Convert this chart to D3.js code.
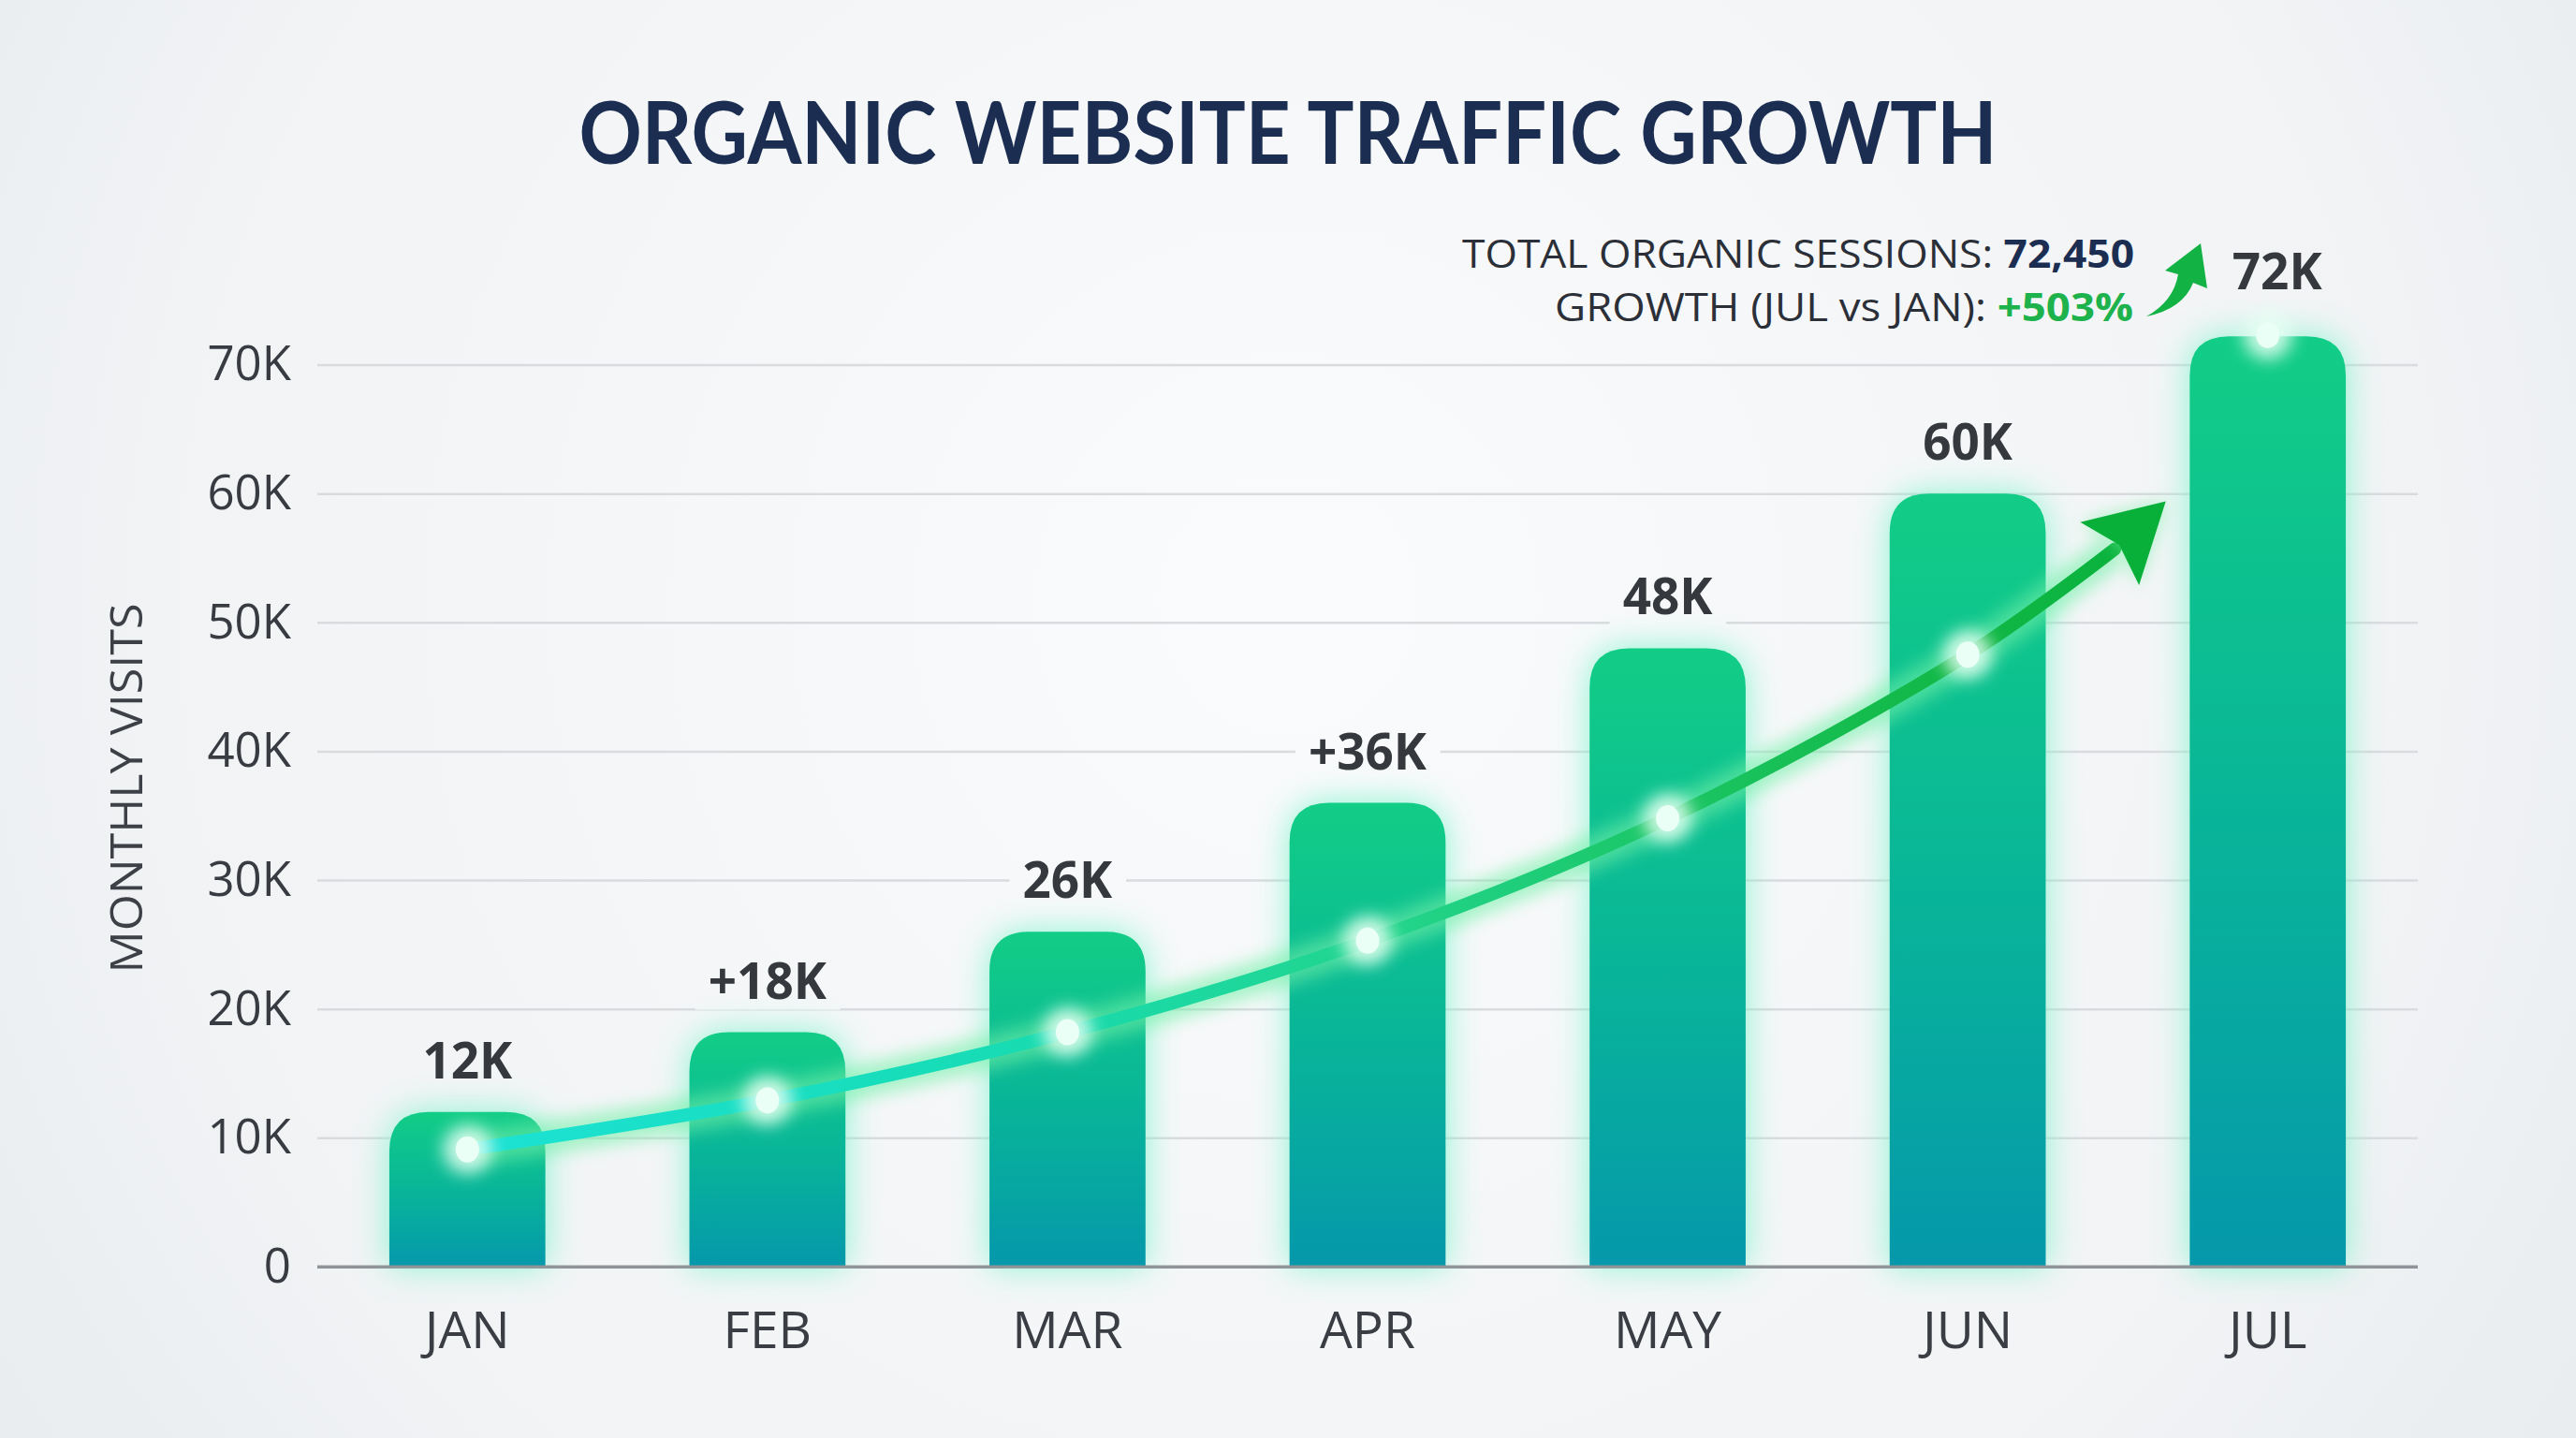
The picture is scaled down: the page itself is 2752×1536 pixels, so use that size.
<!DOCTYPE html>
<html>
<head>
<meta charset="utf-8">
<script src="https://cdn.jsdelivr.net/npm/d3@7"></script>
<style>
  html, body { margin: 0; padding: 0; background: #f2f4f6; }
  svg { display: block; }
</style>
</head>
<body>
<div id="chart"></div>
<script>
// Data
const months = ['JAN', 'FEB', 'MAR', 'APR', 'MAY', 'JUN', 'JUL'];
const visits = [12000, 18200, 26000, 36000, 48000, 60000, 72200];
const valueLabels = ['12K', '+18K', '26K', '+36K', '48K', '60K', '72K'];
const yTicks = [0, 10000, 20000, 30000, 40000, 50000, 60000, 70000];
// trend line markers, Jan..Jun
const trendValues = [9100, 12900, 18200, 25300, 34800, 47500];
// where the trend shaft ends and its arrow tip points (month index, visits)
const trendShaftEnd = [5.49, 55700];
const trendArrowTip = [5.66, 59400];
const julMarker = 72300;
const totalSessions = '72,450';
const growth = '+503%';

const W = 2752, H = 1536;
const margin = { top: 389.6, right: 169, bottom: 183, left: 339 };

const svg = d3.select('#chart').append('svg')
  .attr('width', W).attr('height', H);

const defs = svg.append('defs');

// background
const bg = defs.append('radialGradient').attr('id', 'bg')
  .attr('gradientUnits', 'userSpaceOnUse')
  .attr('cx', W / 2).attr('cy', H * 0.42).attr('r', W * 0.62);
bg.append('stop').attr('offset', '0%').attr('stop-color', '#fafbfc');
bg.append('stop').attr('offset', '70%').attr('stop-color', '#f1f3f5');
bg.append('stop').attr('offset', '100%').attr('stop-color', '#e8ebee');
svg.append('rect').attr('width', W).attr('height', H).attr('fill', 'url(#bg)');

// bar gradient (top green -> bottom teal)
const barGrad = defs.append('linearGradient').attr('id', 'barGrad')
  .attr('x1', 0).attr('y1', 0).attr('x2', 0).attr('y2', 1);
barGrad.append('stop').attr('offset', '0%').attr('stop-color', '#12cd86');
barGrad.append('stop').attr('offset', '55%').attr('stop-color', '#08b39a');
barGrad.append('stop').attr('offset', '100%').attr('stop-color', '#0598ab');

// glow filters
defs.append('filter').attr('id', 'glow')
  .attr('x', '-50%').attr('y', '-50%').attr('width', '200%').attr('height', '200%')
  .append('feGaussianBlur').attr('stdDeviation', 18);
defs.append('filter').attr('id', 'softGlow')
  .attr('x', '-50%').attr('y', '-50%').attr('width', '200%').attr('height', '200%')
  .append('feGaussianBlur').attr('stdDeviation', 9);

const x = d3.scaleBand().domain(months)
  .range([margin.left, W - margin.right])
  .paddingInner(0.48).paddingOuter(0.24);
const y = d3.scaleLinear().domain([0, 70000]).range([H - margin.bottom, margin.top]);
const xi = d3.scaleLinear().domain([0, months.length - 1])
  .range([x(months[0]) + x.bandwidth() / 2, x(months[months.length - 1]) + x.bandwidth() / 2]);

// Title
svg.append('text')
  .attr('x', W / 2).attr('y', 175)
  .attr('text-anchor', 'middle')
  .attr('font-family', 'Lato, "Open Sans", sans-serif')
  .attr('font-weight', 700).attr('font-size', 92)
  .attr('fill', '#1b2e52')
  .attr('textLength', 1515).attr('lengthAdjust', 'spacingAndGlyphs')
  .text('ORGANIC WEBSITE TRAFFIC GROWTH');

// Grid + y axis
svg.append('g')
  .attr('transform', `translate(${margin.left},0)`)
  .call(d3.axisLeft(y).tickValues(yTicks).tickSize(-(W - margin.left - margin.right))
    .tickFormat(d => d === 0 ? '0' : d / 1000 + 'K').tickPadding(28))
  .call(g => g.select('.domain').remove())
  .call(g => g.selectAll('.tick line')
    .attr('stroke', d => d === 0 ? '#909398' : '#d9dbdf')
    .attr('stroke-width', d => d === 0 ? 3 : 2.5))
  .call(g => g.selectAll('.tick text')
    .attr('fill', '#383b41').attr('font-size', 51)
    .attr('font-family', '"Open Sans", sans-serif'));

// y axis title
svg.append('text')
  .attr('transform', `translate(152,842) rotate(-90)`)
  .attr('text-anchor', 'middle')
  .attr('font-family', '"Open Sans", sans-serif')
  .attr('font-size', 48).attr('fill', '#3d4046')
  .attr('textLength', 395).attr('lengthAdjust', 'spacingAndGlyphs')
  .text('MONTHLY VISITS');

// month labels
svg.append('g').selectAll('text').data(months).join('text')
  .attr('x', d => x(d) + x.bandwidth() / 2)
  .attr('y', 1440)
  .attr('text-anchor', 'middle')
  .attr('font-family', '"Open Sans", sans-serif')
  .attr('font-size', 55).attr('fill', '#3a3d44')
  .text(d => d);

// value labels (halo rect hides the gridline behind each label)
const labelG = svg.append('g');
const haloG = svg.insert('g', () => labelG.node());
const labels = labelG.selectAll('text').data(months).join('text')
  .attr('x', (d, i) => x(d) + x.bandwidth() / 2 + (i === 6 ? 10 : 0))
  .attr('y', (d, i) => y(visits[i]) - (i === 6 ? 50 : 36))
  .attr('text-anchor', 'middle')
  .attr('font-family', '"Open Sans", sans-serif')
  .attr('font-weight', 700).attr('font-size', 53)
  .attr('fill', '#35383d')
  .text((d, i) => valueLabels[i]);
labels.each(function () {
  const b = this.getBBox();
  haloG.append('rect')
    .attr('x', b.x - 14).attr('y', b.y + 6)
    .attr('width', b.width + 28).attr('height', b.height - 10)
    .attr('fill', 'url(#bg)');
});

// bars
const r = 42;
const barPath = (d, i) => {
  const x0 = x(d), x1 = x0 + x.bandwidth();
  const top = y(visits[i]), bot = y(0);
  return `M${x0},${bot} L${x0},${top + r} Q${x0},${top} ${x0 + r},${top} ` +
    `L${x1 - r},${top} Q${x1},${top} ${x1},${top + r} L${x1},${bot} Z`;
};
const barsG = svg.append('g');
barsG.selectAll('path.glow').data(months).join('path')
  .attr('class', 'glow')
  .attr('d', barPath)
  .attr('fill', '#7ff4cc').attr('opacity', 0.9)
  .attr('filter', 'url(#glow)');
barsG.selectAll('path.bar').data(months).join('path')
  .attr('class', 'bar')
  .attr('d', barPath)
  .attr('fill', 'url(#barGrad)');
// baseline redrawn over bar glow
svg.append('line')
  .attr('x1', margin.left).attr('x2', W - margin.right)
  .attr('y1', y(0)).attr('y2', y(0))
  .attr('stroke', '#909398').attr('stroke-width', 3);

// trend line
const trendPts = trendValues.map((v, i) => [xi(i), y(v)]);
const shaftEnd = [xi(trendShaftEnd[0]), y(trendShaftEnd[1])];
const tip = [xi(trendArrowTip[0]), y(trendArrowTip[1])];
const linePts = trendPts.concat([shaftEnd]);

const lineGrad = defs.append('linearGradient').attr('id', 'lineGrad')
  .attr('gradientUnits', 'userSpaceOnUse')
  .attr('x1', trendPts[0][0]).attr('x2', tip[0]).attr('y1', 0).attr('y2', 0);
lineGrad.append('stop').attr('offset', '0%').attr('stop-color', '#1ce2d4');
lineGrad.append('stop').attr('offset', '30%').attr('stop-color', '#17dcb6');
lineGrad.append('stop').attr('offset', '55%').attr('stop-color', '#22d48a');
lineGrad.append('stop').attr('offset', '80%').attr('stop-color', '#16bd50');
lineGrad.append('stop').attr('offset', '100%').attr('stop-color', '#08b03a');

const line = d3.line().curve(d3.curveCatmullRom.alpha(0.5));
const trendG = svg.append('g');
trendG.append('path').attr('d', line(linePts))
  .attr('fill', 'none').attr('stroke', '#72f0a8').attr('stroke-width', 36)
  .attr('opacity', 0.6).attr('filter', 'url(#softGlow)');
trendG.append('path').attr('d', line(linePts))
  .attr('fill', 'none').attr('stroke', 'url(#lineGrad)').attr('stroke-width', 14)
  .attr('stroke-linecap', 'round');

// arrow head along shaft direction
const ang = Math.atan2(tip[1] - shaftEnd[1], tip[0] - shaftEnd[0]);
const headLen = 82, headHalf = 46;
const base = [tip[0] - headLen * Math.cos(ang), tip[1] - headLen * Math.sin(ang)];
const wingA = [base[0] + headHalf * Math.sin(ang), base[1] - headHalf * Math.cos(ang)];
const wingB = [base[0] - headHalf * Math.sin(ang), base[1] + headHalf * Math.cos(ang)];
const notch = [base[0] + 14 * Math.cos(ang), base[1] + 14 * Math.sin(ang)];
const headD = `M${tip} L${wingA} L${notch} L${wingB} Z`;
trendG.append('path').attr('d', headD)
  .attr('fill', '#6ff0a0').attr('opacity', 0.6).attr('filter', 'url(#softGlow)');
trendG.append('path').attr('d', headD).attr('fill', '#08b03a');

// markers
const dotData = trendPts.concat([[xi(6), y(julMarker)]]);
trendG.selectAll('ellipse.halo').data(dotData).join('ellipse')
  .attr('class', 'halo')
  .attr('cx', d => d[0]).attr('cy', d => d[1]).attr('rx', 26).attr('ry', 26)
  .attr('fill', '#e6fff4').attr('opacity', 0.85).attr('filter', 'url(#softGlow)');
trendG.selectAll('ellipse.dot').data(dotData).join('ellipse')
  .attr('class', 'dot')
  .attr('cx', d => d[0]).attr('cy', d => d[1]).attr('rx', 12.5).attr('ry', 14)
  .attr('fill', '#eafff6');

// summary annotation
const ann = svg.append('g')
  .attr('font-family', '"Open Sans", sans-serif').attr('font-size', 42)
  .attr('text-anchor', 'end');
const a1 = ann.append('text').attr('x', 2280).attr('y', 286).attr('fill', '#2b2f38')
  .attr('textLength', 718).attr('lengthAdjust', 'spacingAndGlyphs');
a1.append('tspan').text('TOTAL ORGANIC SESSIONS: ');
a1.append('tspan').attr('font-weight', 700).attr('fill', '#1b2e52').text(totalSessions);
const a2 = ann.append('text').attr('x', 2279).attr('y', 343).attr('fill', '#2b2f38')
  .attr('textLength', 618).attr('lengthAdjust', 'spacingAndGlyphs');
a2.append('tspan').text('GROWTH (JUL vs JAN): ');
a2.append('tspan').attr('font-weight', 700).attr('fill', '#1db24c').text(growth);

// small swoosh arrow beside annotation
svg.append('path')
  .attr('d', 'M2293,338 Q2322,322 2327,293 L2313,289 L2351,260 L2358,308 L2343,302 Q2332,330 2293,338 Z')
  .attr('fill', '#12b244');
</script>
</body>
</html>
